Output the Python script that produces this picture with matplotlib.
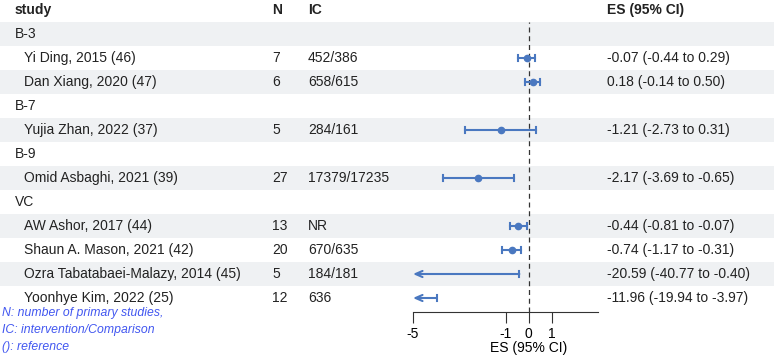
import matplotlib
matplotlib.use("Agg")
import matplotlib.pyplot as plt

plt.rcParams["font.family"] = ["Liberation Sans", "DejaVu Sans"]

# table rows (group headers have no numbers)
labels = ["B-3", "Yi Ding, 2015 (46)", "Dan Xiang, 2020 (47)",
          "B-7", "Yujia Zhan, 2022 (37)",
          "B-9", "Omid Asbaghi, 2021 (39)",
          "VC", "AW Ashor, 2017 (44)", "Shaun A. Mason, 2021 (42)",
          "Ozra Tabatabaei-Malazy, 2014 (45)", "Yoonhye Kim, 2022 (25)"]
is_group = [True, False, False, True, False, True, False, True, False, False, False, False]
n_studies = ["", "7", "6", "", "5", "", "27", "", "13", "20", "5", "12"]
ic = ["", "452/386", "658/615", "", "284/161", "", "17379/17235", "",
      "NR", "670/635", "184/181", "636"]
es = [None, -0.07, 0.18, None, -1.21, None, -2.17, None, -0.44, -0.74, -20.59, -11.96]
lo = [None, -0.44, -0.14, None, -2.73, None, -3.69, None, -0.81, -1.17, -40.77, -19.94]
hi = [None, 0.29, 0.50, None, 0.31, None, -0.65, None, -0.07, -0.31, -0.40, -3.97]
es_text = ["", "-0.07 (-0.44 to 0.29)", "0.18 (-0.14 to 0.50)", "",
           "-1.21 (-2.73 to 0.31)", "", "-2.17 (-3.69 to -0.65)", "",
           "-0.44 (-0.81 to -0.07)", "-0.74 (-1.17 to -0.31)",
           "-20.59 (-40.77 to -0.40)", "-11.96 (-19.94 to -3.97)"]
xticks = [-5, -1, 0, 1]
xlim = (-5, 3)
footnotes = ["N: number of primary studies,", "IC: intervention/Comparison", "(): reference"]

W, H = 774, 359
blue = "#4a78c0"
fig = plt.figure(figsize=(W / 100, H / 100), dpi=100)

# row r is centred at pixel 10 + 24 r from the top
def row_of(px):
    return (px - 10) / 24

bg = fig.add_axes([0, 0, 1, 1])
bg.set_xlim(0, 1)
bg.set_ylim(row_of(H), row_of(0))
bg.axis("off")

for i, lab in enumerate(labels):
    r = i + 1
    if r % 2 == 1:
        bg.axhspan(r - 0.5, r + 0.5, color="#eff1f3", zorder=0, lw=0)
    bg.text((15 if is_group[i] else 24) / W, r, lab, va="center", ha="left", fontsize=10, color="#222222")
    bg.text(272 / W, r, n_studies[i], va="center", ha="left", fontsize=10, color="#222222")
    bg.text(308 / W, r, ic[i], va="center", ha="left", fontsize=10, color="#222222")
    bg.text(607 / W, r, es_text[i], va="center", ha="left", fontsize=10, color="#222222")

for x, h in [(15, "study"), (272, "N"), (308, "IC"), (607, "ES (95% CI)")]:
    bg.text(x / W, 0, h, va="center", ha="left", fontsize=10, fontweight="bold", color="#222222")

for k, t in enumerate(footnotes):
    bg.text(2 / W, row_of(313 + 17 * k), t, va="center", ha="left", fontsize=8.8,
            style="italic", color="#4257f0")

# forest panel
left, right, top, bottom = 413, 598, 22, 312
ax = fig.add_axes([left / W, 1 - bottom / H, (right - left) / W, (bottom - top) / H])
ax.patch.set_alpha(0)
ax.set_xlim(*xlim)
ax.set_ylim(row_of(bottom), row_of(top))
for s in ["top", "right", "left"]:
    ax.spines[s].set_visible(False)
ax.spines["bottom"].set_color("#333333")
ax.spines["bottom"].set_linewidth(0.8)
ax.set_yticks([])
ax.set_xticks(xticks)
ax.set_xticklabels([str(t) for t in xticks])
ax.tick_params(axis="x", length=8, width=0.8, color="#333333", labelsize=10, pad=3)
ax.set_xlabel("ES (95% CI)", fontsize=10, labelpad=1)
ax.xaxis.set_label_coords((0 - xlim[0]) / (xlim[1] - xlim[0]), -0.1)
ax.axvline(0, color="#333333", lw=0.9, ls=(0, (4, 3)), zorder=1)

cap = 0.13
for i in range(len(labels)):
    if es[i] is None:
        continue
    r = i + 1
    l, h = max(lo[i], xlim[0]), hi[i]
    if lo[i] < xlim[0]:
        ax.annotate("", xy=(l, r), xytext=(h, r),
                    arrowprops=dict(arrowstyle="->,head_length=0.5,head_width=0.22",
                                    color=blue, lw=1.5, shrinkA=0, shrinkB=0))
    else:
        ax.plot([l, h], [r, r], color=blue, lw=1.5)
        ax.plot([l, l], [r - cap, r + cap], color=blue, lw=1.5)
    ax.plot([h, h], [r - cap, r + cap], color=blue, lw=1.5)
    if xlim[0] <= es[i] <= xlim[1]:
        ax.plot(es[i], r, "o", color=blue, ms=4.5)

fig.savefig("out.png", dpi=100)
